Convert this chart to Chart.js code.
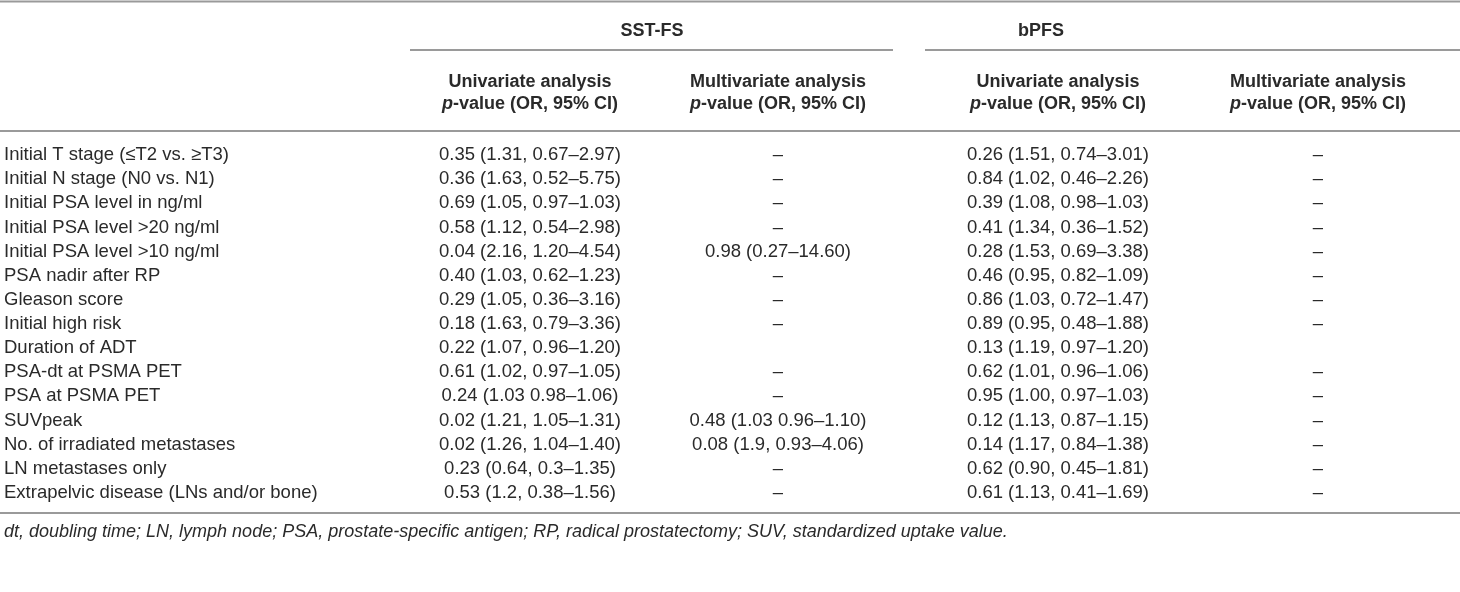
<!DOCTYPE html>
<html>
<head>
<meta charset="utf-8">
<script src="https://cdn.jsdelivr.net/npm/chart.js@4.4.1/dist/chart.umd.min.js"></script>
<style>
  html, body { margin: 0; padding: 0; background: #fff; }
  #wrap { width: 1460px; height: 592px; }
</style>
</head>
<body>
<div id="wrap"><canvas id="tbl" width="1460" height="592"></canvas></div>
<script>
// table content
const factors = [
  "Initial T stage (\u2264T2 vs. \u2265T3)",
  "Initial N stage (N0 vs. N1)",
  "Initial PSA level in ng/ml",
  "Initial PSA level >20 ng/ml",
  "Initial PSA level >10 ng/ml",
  "PSA nadir after RP",
  "Gleason score",
  "Initial high risk",
  "Duration of ADT",
  "PSA-dt at PSMA PET",
  "PSA at PSMA PET",
  "SUVpeak",
  "No. of irradiated metastases",
  "LN metastases only",
  "Extrapelvic disease (LNs and/or bone)"
];
const sstUni = [
  "0.35 (1.31, 0.67\u20132.97)", "0.36 (1.63, 0.52\u20135.75)", "0.69 (1.05, 0.97\u20131.03)",
  "0.58 (1.12, 0.54\u20132.98)", "0.04 (2.16, 1.20\u20134.54)", "0.40 (1.03, 0.62\u20131.23)",
  "0.29 (1.05, 0.36\u20133.16)", "0.18 (1.63, 0.79\u20133.36)", "0.22 (1.07, 0.96\u20131.20)",
  "0.61 (1.02, 0.97\u20131.05)", "0.24 (1.03 0.98\u20131.06)", "0.02 (1.21, 1.05\u20131.31)",
  "0.02 (1.26, 1.04\u20131.40)", "0.23 (0.64, 0.3\u20131.35)", "0.53 (1.2, 0.38\u20131.56)"
];
const sstMulti = [
  "\u2013", "\u2013", "\u2013", "\u2013", "0.98 (0.27\u201314.60)", "\u2013", "\u2013", "\u2013", "",
  "\u2013", "\u2013", "0.48 (1.03 0.96\u20131.10)", "0.08 (1.9, 0.93\u20134.06)", "\u2013", "\u2013"
];
const bpfsUni = [
  "0.26 (1.51, 0.74\u20133.01)", "0.84 (1.02, 0.46\u20132.26)", "0.39 (1.08, 0.98\u20131.03)",
  "0.41 (1.34, 0.36\u20131.52)", "0.28 (1.53, 0.69\u20133.38)", "0.46 (0.95, 0.82\u20131.09)",
  "0.86 (1.03, 0.72\u20131.47)", "0.89 (0.95, 0.48\u20131.88)", "0.13 (1.19, 0.97\u20131.20)",
  "0.62 (1.01, 0.96\u20131.06)", "0.95 (1.00, 0.97\u20131.03)", "0.12 (1.13, 0.87\u20131.15)",
  "0.14 (1.17, 0.84\u20131.38)", "0.62 (0.90, 0.45\u20131.81)", "0.61 (1.13, 0.41\u20131.69)"
];
const bpfsMulti = [
  "\u2013", "\u2013", "\u2013", "\u2013", "\u2013", "\u2013", "\u2013", "\u2013", "",
  "\u2013", "\u2013", "\u2013", "\u2013", "\u2013", "\u2013"
];
const groups = ["SST-FS", "bPFS"];
const analyses = ["Univariate analysis", "Multivariate analysis"];
const footnote = "dt, doubling time; LN, lymph node; PSA, prostate-specific antigen; RP, radical prostatectomy; SUV, standardized uptake value.";

// layout (pixels)
const FONT = "'Liberation Sans', Arial, Helvetica, sans-serif";
const INK = "#2a2a2a";
const RULE = "#9a9a9a";
const colX = [530, 778, 1058, 1318];
const groupX = [652, 1041];
const groupRule = [[410, 893], [925, 1460]];
const firstRowY = 155, rowStep = 24.14;

const columns = [sstUni, sstMulti, bpfsUni, bpfsMulti];

const tablePlugin = {
  id: "tableText",
  afterDraw(chart) {
    const ctx = chart.ctx;
    const xs = chart.scales.x, ys = chart.scales.y;
    ctx.save();
    ctx.fillStyle = INK;
    ctx.textBaseline = "middle";

    // rules
    ctx.strokeStyle = RULE;
    ctx.lineWidth = 2;
    const hline = (x0, x1, y) => {
      ctx.beginPath(); ctx.moveTo(x0, y); ctx.lineTo(x1, y); ctx.stroke();
    };
    hline(0, 1460, 1.5);
    groupRule.forEach(r => hline(xs.getPixelForValue(r[0]), xs.getPixelForValue(r[1]), 50));
    hline(0, 1460, 131);
    hline(0, 1460, 513);

    // group headers
    ctx.font = "bold 18px " + FONT;
    ctx.textAlign = "center";
    groups.forEach((g, i) => ctx.fillText(g, xs.getPixelForValue(groupX[i]), 31));

    // column headers
    colX.forEach((cx, i) => {
      const px = xs.getPixelForValue(cx);
      ctx.font = "bold 18px " + FONT;
      ctx.textAlign = "center";
      ctx.fillText(analyses[i % 2], px, 82);
      // "p-value (OR, 95% CI)" with italic p
      const rest = "-value (OR, 95% CI)";
      ctx.font = "italic bold 18px " + FONT;
      const wp = ctx.measureText("p").width;
      ctx.font = "bold 18px " + FONT;
      const wr = ctx.measureText(rest).width;
      const x0 = px - (wp + wr) / 2;
      ctx.textAlign = "left";
      ctx.font = "italic bold 18px " + FONT;
      ctx.fillText("p", x0, 104);
      ctx.font = "bold 18px " + FONT;
      ctx.fillText(rest, x0 + wp, 104);
    });

    // body rows
    ctx.font = "18.5px " + FONT;
    factors.forEach((f, r) => {
      const py = ys.getPixelForValue(r);
      ctx.textAlign = "left";
      ctx.fillText(f, xs.getPixelForValue(4), py);
      ctx.textAlign = "center";
      columns.forEach((col, c) => {
        if (col[r]) ctx.fillText(col[r], xs.getPixelForValue(colX[c]), py);
      });
    });

    // footnote
    ctx.font = "italic 18px " + FONT;
    ctx.textAlign = "left";
    ctx.fillText(footnote, xs.getPixelForValue(4), 532);
    ctx.restore();
  }
};

const yMin = -firstRowY / rowStep;
const yMax = yMin + 592 / rowStep;

new Chart(document.getElementById("tbl"), {
  type: "scatter",
  data: {
    datasets: [{
      data: factors.map((f, i) => ({ x: 0, y: i })),
      pointRadius: 0,
      showLine: false
    }]
  },
  options: {
    responsive: false,
    animation: false,
    devicePixelRatio: 1,
    layout: { padding: 0 },
    plugins: { legend: { display: false }, tooltip: { enabled: false } },
    scales: {
      x: { type: "linear", display: false, min: 0, max: 1460 },
      y: { type: "linear", display: false, reverse: true, min: yMin, max: yMax }
    }
  },
  plugins: [tablePlugin]
});
</script>
</body>
</html>
